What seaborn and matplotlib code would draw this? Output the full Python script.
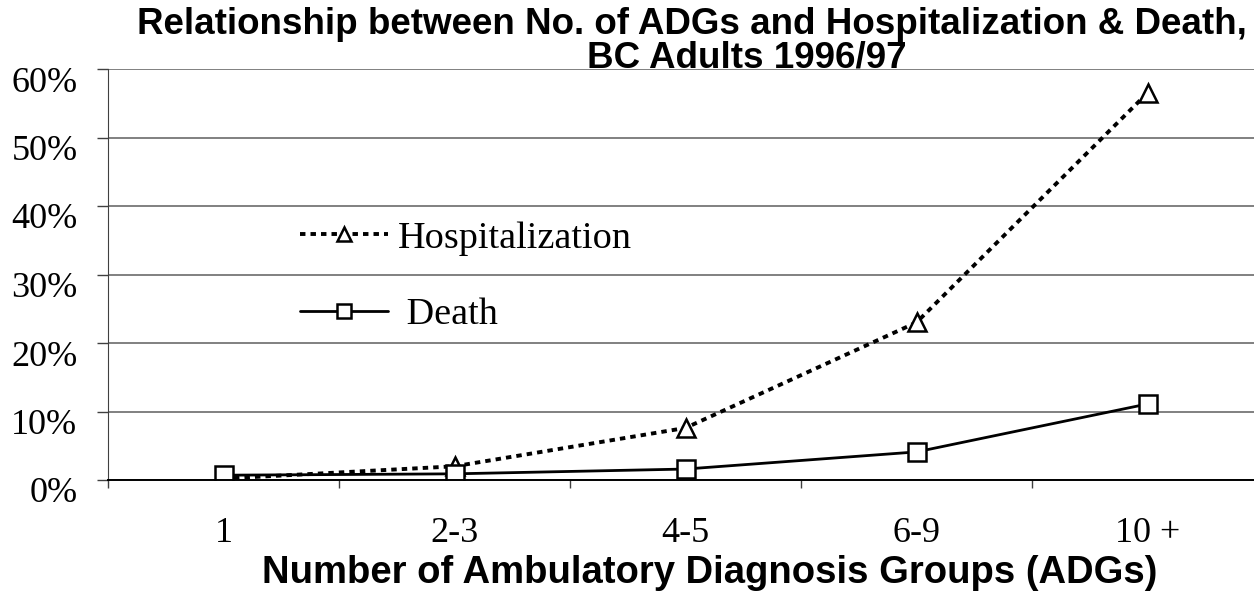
import matplotlib
matplotlib.use("Agg")
import matplotlib.pyplot as plt
import matplotlib.transforms as mtransforms
import seaborn as sns
import pandas as pd
from matplotlib.ticker import FixedLocator, PercentFormatter

categories = ["1", "2-3", "4-5", "6-9", "10 +"]
hospitalization = [0.2, 2.0, 7.6, 23.0, 56.5]
death = [0.7, 0.9, 1.6, 4.1, 11.1]

df = pd.DataFrame({
    "adg": categories * 2,
    "rate": hospitalization + death,
    "outcome": ["Hospitalization"] * 5 + ["Death"] * 5,
})

sns.set_style("white")
plt.rcParams["font.family"] = ["Liberation Serif", "DejaVu Serif"]
plt.rcParams["text.color"] = "black"
plt.rcParams["axes.labelcolor"] = "black"
plt.rcParams["xtick.color"] = "black"
plt.rcParams["ytick.color"] = "black"

fig = plt.figure(figsize=(12.54, 5.94), dpi=100)
ax = fig.add_axes([108 / 1254, 114 / 594, 1155 / 1254, 411 / 594])

sns.lineplot(data=df[df.outcome == "Hospitalization"], x="adg", y="rate", ax=ax,
             color="black", linewidth=2.8, linestyle=(0, (1.4, 1.3)),
             marker="^", markersize=13, markerfacecolor="white",
             markeredgecolor="black", markeredgewidth=1.8,
             label="Hospitalization", sort=False)
sns.lineplot(data=df[df.outcome == "Death"], x="adg", y="rate", ax=ax,
             color="black", linewidth=2.0,
             marker="s", markersize=13, markerfacecolor="white",
             markeredgecolor="black", markeredgewidth=1.8,
             label=" Death", sort=False)

ax.set_xlim(-0.5, 4.5)
ax.set_ylim(0, 60)
ax.yaxis.set_major_locator(FixedLocator(range(0, 61, 10)))
ax.yaxis.set_major_formatter(PercentFormatter(decimals=0))
ax.grid(axis="y", color="#808080", linewidth=1.4)
ax.set_axisbelow(True)

ax.xaxis.set_minor_locator(FixedLocator([-0.5, 0.5, 1.5, 2.5, 3.5]))
ax.tick_params(axis="x", which="major", length=0, pad=27, labelsize=26)
ax.tick_params(axis="x", which="minor", length=6, width=1, color="#404040", direction="out", bottom=True)
ax.tick_params(axis="y", length=8, width=1, color="#404040", direction="out", left=True, pad=14, labelsize=26)

# y labels sit a little below their gridlines in the original
shift = mtransforms.ScaledTranslation(0, -0.1, fig.dpi_scale_trans)
for lbl in ax.get_yticklabels():
    lbl.set_transform(lbl.get_transform() + shift)

for side in ["top", "right"]:
    ax.spines[side].set_visible(False)
ax.spines["left"].set_color("#404040")
ax.spines["bottom"].set_color("black")
ax.spines["bottom"].set_linewidth(1.4)

ax.set_xlabel("Number of Ambulatory Diagnosis Groups (ADGs)", family=["Liberation Sans"],
              fontweight="bold", fontsize=27.5, va="baseline")
ax.xaxis.set_label_coords((710 - 108) / 1155, (480 - 583) / 411)
ax.set_ylabel("")

fig.text(692 / 1254, 1 - 34 / 594, "Relationship between No. of ADGs and Hospitalization & Death,",
         family=["Liberation Sans"], fontweight="bold", fontsize=26.5, ha="center", va="baseline")
fig.text(747 / 1254, 1 - 68 / 594, "BC Adults 1996/97",
         family=["Liberation Sans"], fontweight="bold", fontsize=26.5, ha="center", va="baseline")

leg = ax.legend(loc="upper left", bbox_to_anchor=(192 / 1155, 1 - 152 / 411), frameon=False,
                fontsize=27.5, handlelength=2.3, labelspacing=1.09, handletextpad=0.25,
                markerscale=0.75, borderaxespad=0, borderpad=0)

fig.savefig("out.png", dpi=100)
